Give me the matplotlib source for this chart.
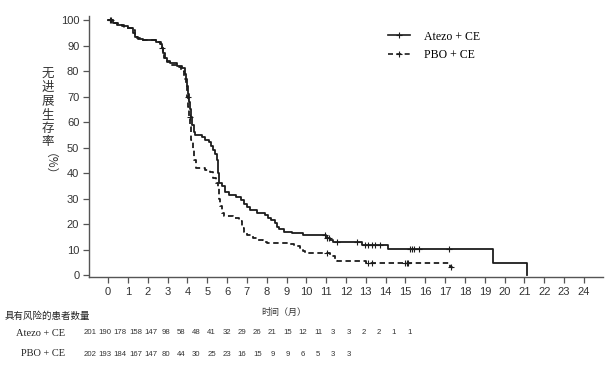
import numpy as np
import matplotlib
matplotlib.use("Agg")
import matplotlib.pyplot as plt
from matplotlib.lines import Line2D

# Kaplan-Meier step data (time in months, PFS %)
atezo_t = [0, 0.25, 0.45, 0.7, 1.0, 1.25, 1.35, 1.5, 1.75, 2.4, 2.6, 2.7, 2.78, 2.85, 2.95,
           3.1, 3.5, 3.75, 3.88, 3.95, 4.0, 4.05, 4.1, 4.15, 4.2, 4.25, 4.32, 4.4, 4.75,
           4.9, 5.1, 5.2, 5.3, 5.4, 5.5, 5.55, 5.58, 5.75, 5.9, 6.1, 6.45, 6.7, 6.85, 7.0,
           7.15, 7.5, 7.9, 8.05, 8.2, 8.4, 8.5, 8.6, 8.85, 9.3, 9.85, 11.0, 11.2, 11.35,
           12.8, 14.1, 19.4, 21.15]
atezo_s = [100, 99, 98, 97.5, 97, 95, 93.5, 92.5, 92, 91.5, 90.5, 89, 87, 85, 84,
           83, 82, 81, 79, 77, 74, 71, 68, 65, 62, 59, 56, 55, 54,
           53, 52, 50.5, 49, 47.5, 45, 40, 36, 35, 32.5, 31.5, 30.5, 29.5, 28, 26.5,
           25.5, 24.5, 23.5, 22.5, 21.5, 20.5, 19, 18, 17, 16.5, 15.7, 14.4, 13.7, 13,
           11.8, 10.1, 4.6, 0]

pbo_t = [0, 0.3, 0.5, 0.8, 1.2, 1.35, 1.45, 1.6, 2.5, 2.65, 2.75, 2.8, 2.95, 3.2, 3.5,
         3.7, 3.85, 3.95, 4.0, 4.05, 4.1, 4.15, 4.2, 4.28, 4.35, 4.45, 4.9, 5.15, 5.3,
         5.45, 5.57, 5.62, 5.65, 5.75, 5.85, 6.3, 6.6, 6.75, 6.85, 7.0, 7.3, 7.5, 7.8,
         8.0, 9.1, 9.4, 9.7, 9.85, 9.95, 11.2, 11.45, 11.55, 13.0, 17.25, 17.35]
pbo_s = [100, 99, 98, 97, 96, 94, 93, 92, 91.5, 89, 87, 85, 83.5, 82.5, 81.5,
         80, 77, 74, 70, 66, 62, 58, 53, 49, 45, 42, 41.3, 40.3, 38,
         36, 34.5, 30, 27, 24.5, 23.2, 22.2, 21, 18.5, 17, 15.5, 14.5, 13.7, 13,
         12.5, 12, 11.3, 10.5, 9.5, 8.5, 7.3, 6.2, 5.5, 4.9, 3.3, 2]

atezo_cens = [0.1, 2.72, 10.95, 11.05, 11.12, 11.55, 12.55, 12.97, 13.12, 13.3, 13.48,
              13.7, 15.25, 15.35, 15.45, 15.7, 17.2]
pbo_cens = [0.15, 4.02, 4.12, 11.05, 13.1, 13.3, 15.0, 15.08, 15.15, 17.3]

risk_atezo = [201, 190, 178, 158, 147, 98, 58, 48, 41, 32, 29, 26, 21, 15, 12, 11, 3, 3, 2, 2, 1, 1]
risk_pbo = [202, 193, 184, 167, 147, 80, 44, 30, 25, 23, 16, 15, 9, 9, 6, 5, 3, 3]

labels = ["Atezo + CE", "PBO + CE"]
xticks = list(range(0, 25))
yticks = list(range(0, 101, 10))

W, H = 615, 373
fig = plt.figure(figsize=(W / 100, H / 100), dpi=100)
ax = fig.add_axes([89 / W, 1 - 277 / H, 514 / W, 261 / H])

col = "#1c1c1c"
ax.step(atezo_t, atezo_s, where="post", color=col, lw=1.3)
ax.step(pbo_t, pbo_s, where="post", color=col, lw=1.3, ls=(0, (3, 2)))


def step_at(ts, ss, x):
    i = np.searchsorted(ts, x, side="right") - 1
    return np.asarray(ss)[i]


ax.plot(atezo_cens, step_at(atezo_t, atezo_s, atezo_cens), ls="none", marker="+",
        ms=5, mew=0.8, color=col)
ax.plot(pbo_cens, step_at(pbo_t, pbo_s, pbo_cens), ls="none", marker="+",
        ms=5, mew=0.8, color=col)

ax.set_xlim(-0.96, 24.96)
ax.set_ylim(-0.78, 101.57)
ax.set_xticks(xticks)
ax.set_yticks(yticks)
for s in ["top", "right"]:
    ax.spines[s].set_visible(False)
for s in ["left", "bottom"]:
    ax.spines[s].set_color("#555555")
    ax.spines[s].set_linewidth(1.0)
ax.tick_params(length=4, width=0.9, color="#555555", labelsize=8, labelcolor="#333333", pad=3)
for lab in ax.get_xticklabels() + ax.get_yticklabels():
    lab.set_family("Liberation Sans")

handles = [Line2D([], [], color=col, lw=1.2, marker="+", ms=5, mew=0.8),
           Line2D([], [], color=col, lw=1.2, ls=(0, (3, 2)), marker="+", ms=5, mew=0.8)]
ax.legend(handles, labels, loc="upper left", bbox_to_anchor=(377 / W, 1 - 20 / H),
          bbox_transform=fig.transFigure, frameon=False, handlelength=1.9,
          handletextpad=1.2, labelspacing=0.55,
          prop={"family": "Liberation Serif", "size": 8.5})

cjk = ["Noto Sans CJK SC", "DejaVu Sans"]
fig.text(48 / W, 1 - 67 / H, "无\n进\n展\n生\n存\n率", ha="center", va="top",
         family=cjk, fontsize=9, color="#333333", linespacing=1.07)
fig.text(43 / W, 1 - 170 / H, "（%）", ha="center", va="center", rotation=-90,
         family=cjk, fontsize=8.5, color="#333333")

fig.text(284 / W, 1 - 312 / H, "时间（月）", ha="center", va="center",
         family=cjk, fontsize=6.5, color="#333333")
fig.text(5 / W, 1 - 316 / H, "具有风险的患者数量", ha="left", va="center",
         family=cjk, fontsize=6.8, color="#222222")

rows_y = [333, 354]
for lab, y, vals in zip(labels, rows_y, [risk_atezo, risk_pbo]):
    fig.text(65 / W, 1 - y / H, lab, ha="right", va="center",
             family="Liberation Serif", fontsize=7.5, color="#222222")
    for i, v in enumerate(vals):
        fig.text((90 + 15.2 * i) / W, 1 - y / H, str(v), ha="center", va="center",
                 family=["Liberation Sans Narrow", "Liberation Sans"], fontsize=5.6,
                 color="#333333")

fig.savefig("out.png", dpi=100)
